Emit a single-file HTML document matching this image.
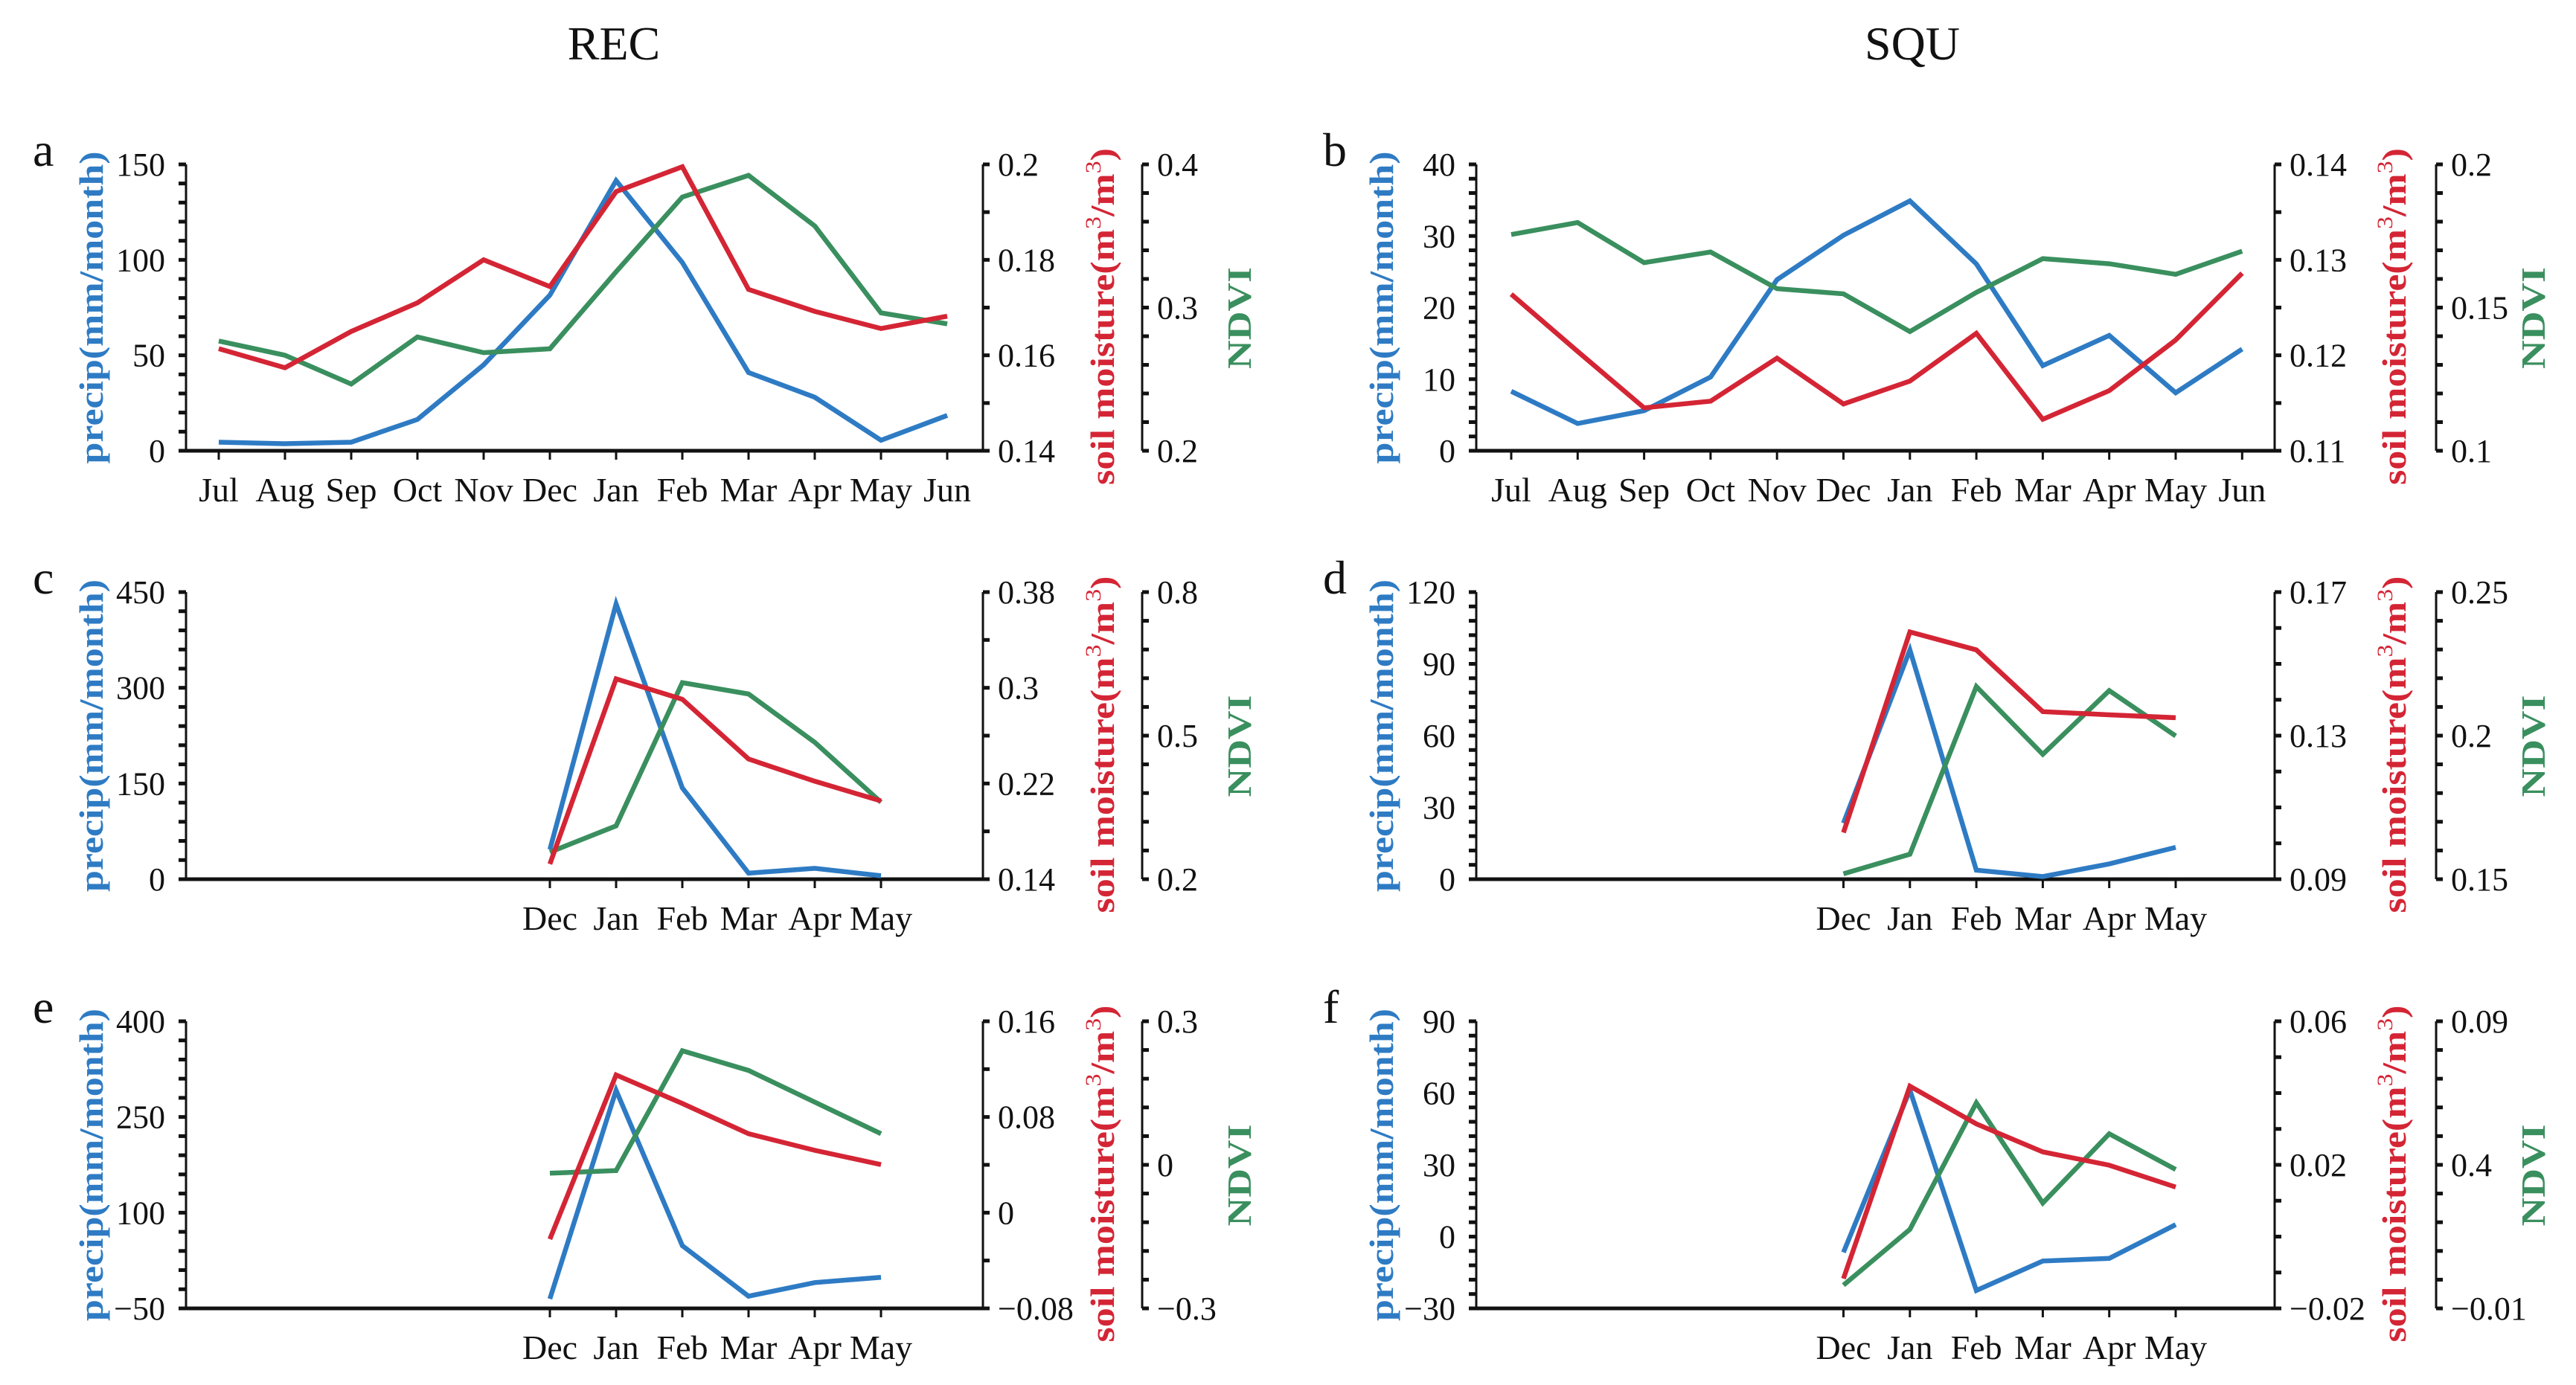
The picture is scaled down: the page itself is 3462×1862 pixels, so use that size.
<!DOCTYPE html>
<html><head><meta charset="utf-8">
<style>
html,body{margin:0;padding:0;background:#fff;}
svg{display:block;}
text{font-family:"Liberation Serif",serif;}
</style></head>
<body>
<svg id="fig" width="3462" height="1862" viewBox="0 0 3462 1862" xmlns="http://www.w3.org/2000/svg">
<text x="825" y="80" font-size="64" text-anchor="middle" fill="#111">REC</text>
<text x="2570" y="80" font-size="64" text-anchor="middle" fill="#111">SQU</text>
</svg>
<script>
// ---- data ----
const monthsFull = ["Jul","Aug","Sep","Oct","Nov","Dec","Jan","Feb","Mar","Apr","May","Jun"];
const monthsShort = ["Dec","Jan","Feb","Mar","Apr","May"];

const precipA = [4.5,3.7,4.5,16.4,45,81.5,141.5,98.6,41,28,5.5,18.5];
const soilA   = [0.1614,0.1574,0.165,0.171,0.180,0.1744,0.1943,0.1995,0.1738,0.1692,0.1656,0.1682];
const ndviA   = [0.2767,0.2667,0.2466,0.2795,0.2685,0.2712,0.325,0.3772,0.3923,0.357,0.2963,0.2886];

const precipB = [8.3,3.8,5.6,10.3,23.9,30.1,34.9,26.1,11.9,16.1,8.1,14.2];
const soilB   = [0.1264,0.1204,0.1145,0.1152,0.1197,0.1149,0.1173,0.1223,0.1133,0.1163,0.1216,0.1286];
const ndviB   = [0.1755,0.1797,0.1657,0.1694,0.1566,0.1548,0.1416,0.1553,0.1671,0.1653,0.1616,0.1697];

const precipC = [46.5,431.5,143,9.5,17,5.4];
const soilC   = [0.1527,0.3075,0.2904,0.2405,0.2219,0.2054];
const ndviC   = [0.2565,0.3114,0.6106,0.587,0.486,0.3609];

const precipD = [23.4,95.8,3.8,1.1,6.4,13.3];
const soilD   = [0.103,0.1589,0.1539,0.1367,0.1358,0.135];
const ndviD   = [0.1519,0.1587,0.2171,0.1935,0.2157,0.1999];

const precipE = [-35.1,291.8,48.3,-30.9,-9.5,-1.3];
const soilE   = [-0.0221,0.1151,0.0913,0.066,0.0521,0.0402];
const ndviE   = [-0.0176,-0.012,0.2384,0.1972,0.131,0.0649];

const precipF = [-6.6,61.2,-22.5,-10.2,-9.1,5.0];
const soilF   = [-0.0117,0.0419,0.0314,0.0236,0.0199,0.0138];
const ndviF   = [-0.0019,0.0175,0.0616,0.0267,0.0508,0.0384];

// tick label arrays
const precipTicksA = ["0","50","100","150"];
const soilTicksA = ["0.14","0.16","0.18","0.2"];
const ndviTicksA = ["0.2","0.3","0.4"];
const precipTicksB = ["0","10","20","30","40"];
const soilTicksB = ["0.11","0.12","0.13","0.14"];
const ndviTicksB = ["0.1","0.15","0.2"];
const precipTicksC = ["0","150","300","450"];
const soilTicksC = ["0.14","0.22","0.3","0.38"];
const ndviTicksC = ["0.2","0.5","0.8"];
const precipTicksD = ["0","30","60","90","120"];
const soilTicksD = ["0.09","0.13","0.17"];
const ndviTicksD = ["0.15","0.2","0.25"];
const precipTicksE = ["−50","100","250","400"];
const soilTicksE = ["−0.08","0","0.08","0.16"];
const ndviTicksE = ["−0.3","0","0.3"];
const precipTicksF = ["−30","0","30","60","90"];
const soilTicksF = ["−0.02","0.02","0.06"];
const ndviTicksF = ["−0.01","0.4","0.09"];

const BLUE="#2E7BC4", RED="#D42535", GREEN="#3A8F5E";
const NS="http://www.w3.org/2000/svg";
const svg=document.getElementById('fig');

function mk(tag, attrs, parent){
  const e=document.createElementNS(NS,tag);
  for(const k in attrs) e.setAttribute(k,attrs[k]);
  (parent||svg).appendChild(e);
  return e;
}

function panel(o){
  const g=mk('g',{});
  
  
  const T=o.top,B=o.bottom,L=o.L;
  const yOf=(v,min,max)=>B-(v-min)/(max-min)*(B-T);
  const xOf=i=>o.x0+(o.startIdx+i)*o.dx;
  const lt=mk('text',{x:o.L-206,y:T+2,'font-size':64,fill:'#111'},g);
  lt.textContent=o.letter;
  
  
  const ax=[[L,o.pre,'left','precip'],[o.R1,o.soil,'right','soil'],[o.R2,o.ndvi,'right','ndvi']];
  ax.forEach(([x,s,side,nm])=>{
    const line=mk('line',{x1:x,y1:T,x2:x,y2:B,stroke:'#111','stroke-width':3},g);
    
    
    for(let k=0;k<=s.n;k++){
      const y=T+(B-T)*k/s.n;
      const tk=mk('line',{x1:side==='left'?x-10:x,y1:y,x2:side==='left'?x:x+9,y2:y,stroke:'#111','stroke-width':5},g);
      
      
    }
    const nl=s.labels.length;
    s.labels.forEach((lab,k)=>{
      const y=B-(B-T)*k/(nl-1);
      const t=mk('text',{x:side==='left'?x-28:x+20,y:y+15,'font-size':44,fill:'#111','text-anchor':side==='left'?'end':'start'},g);
      t.textContent=lab;
      
      
    });
  });
  const xa=mk('line',{x1:L-2,y1:B,x2:o.R1+2,y2:B,stroke:'#111','stroke-width':5},g);
  
  
  o.months.forEach((m,i)=>{
    const x=xOf(i);
    const tk=mk('line',{x1:x,y1:B,x2:x,y2:B+12,stroke:'#111','stroke-width':3},g);
    
    
    const t=mk('text',{x:x,y:B+68,'font-size':46,fill:'#111','text-anchor':'middle'},g);
    t.textContent=m;
    
    
  });
  const cy=(T+B)/2;
  const pt=mk('text',{x:0,y:0,'font-size':46,'font-weight':'bold',fill:BLUE,'text-anchor':'middle',
    transform:`translate(${L-112},${cy}) rotate(-90)`,textLength:420,lengthAdjust:'spacingAndGlyphs'},g);
  pt.textContent='precip(mm/month)';
  
  
  const st=mk('text',{x:0,y:0,'font-size':46,'font-weight':'bold',fill:RED,'text-anchor':'middle',
    transform:`translate(${o.R1+176},${cy+12}) rotate(-90)`,textLength:453,lengthAdjust:'spacingAndGlyphs'},g);
  st.innerHTML='<tspan>soil moisture(m</tspan><tspan dy="-18" font-size="30" font-weight="normal">3</tspan><tspan dy="18">/m</tspan><tspan dy="-18" font-size="30" font-weight="normal">3</tspan><tspan dy="18">)</tspan>';
  
  
  const nt=mk('text',{x:0,y:0,'font-size':46,'font-weight':'bold',fill:GREEN,'text-anchor':'middle',
    transform:`translate(${o.R2+146},${cy+14}) rotate(-90)`,textLength:137,lengthAdjust:'spacingAndGlyphs'},g);
  nt.textContent='NDVI';
  
  
  const series=[[o.dPre,o.pre,BLUE,'precip-line'],[o.dNdvi,o.ndvi,GREEN,'ndvi-line'],[o.dSoil,o.soil,RED,'soil-moisture-line']];
  series.forEach(([d,s,c,nm])=>{
    const pts=d.map((v,i)=>xOf(i).toFixed(1)+','+yOf(v,s.min,s.max).toFixed(1)).join(' ');
    const pl=mk('polyline',{points:pts,fill:'none',stroke:c,'stroke-width':6.5,'stroke-linejoin':'miter'},g);
    
    
  });
}

const LEFT={L:250,R1:1321,R2:1535,x0:294,dx:89};
const RIGHT={L:1984,R1:3057,R2:3274,x0:2031,dx:89.3};
const ROW1={top:221,bottom:606}, ROW2={top:796,bottom:1182}, ROW3={top:1373,bottom:1759};

panel(Object.assign({letter:'a',months:monthsFull,startIdx:0,dPre:precipA,dSoil:soilA,dNdvi:ndviA,
  pre:{min:0,max:150,n:15,labels:precipTicksA},soil:{min:0.14,max:0.2,n:6,labels:soilTicksA},ndvi:{min:0.2,max:0.4,n:10,labels:ndviTicksA}},LEFT,ROW1));
panel(Object.assign({letter:'b',months:monthsFull,startIdx:0,dPre:precipB,dSoil:soilB,dNdvi:ndviB,
  pre:{min:0,max:40,n:20,labels:precipTicksB},soil:{min:0.11,max:0.14,n:6,labels:soilTicksB},ndvi:{min:0.1,max:0.2,n:10,labels:ndviTicksB}},RIGHT,ROW1));
panel(Object.assign({letter:'c',months:monthsShort,startIdx:5,dPre:precipC,dSoil:soilC,dNdvi:ndviC,
  pre:{min:0,max:450,n:15,labels:precipTicksC},soil:{min:0.14,max:0.38,n:6,labels:soilTicksC},ndvi:{min:0.2,max:0.8,n:10,labels:ndviTicksC}},LEFT,ROW2));
panel(Object.assign({letter:'d',months:monthsShort,startIdx:5,dPre:precipD,dSoil:soilD,dNdvi:ndviD,
  pre:{min:0,max:120,n:20,labels:precipTicksD},soil:{min:0.09,max:0.17,n:8,labels:soilTicksD},ndvi:{min:0.15,max:0.25,n:10,labels:ndviTicksD}},RIGHT,ROW2));
panel(Object.assign({letter:'e',months:monthsShort,startIdx:5,dPre:precipE,dSoil:soilE,dNdvi:ndviE,
  pre:{min:-50,max:400,n:15,labels:precipTicksE},soil:{min:-0.08,max:0.16,n:6,labels:soilTicksE},ndvi:{min:-0.3,max:0.3,n:10,labels:ndviTicksE}},LEFT,ROW3));
panel(Object.assign({letter:'f',months:monthsShort,startIdx:5,dPre:precipF,dSoil:soilF,dNdvi:ndviF,
  pre:{min:-30,max:90,n:20,labels:precipTicksF},soil:{min:-0.02,max:0.06,n:8,labels:soilTicksF},ndvi:{min:-0.01,max:0.09,n:10,labels:ndviTicksF}},RIGHT,ROW3));
</script>
</body></html>
